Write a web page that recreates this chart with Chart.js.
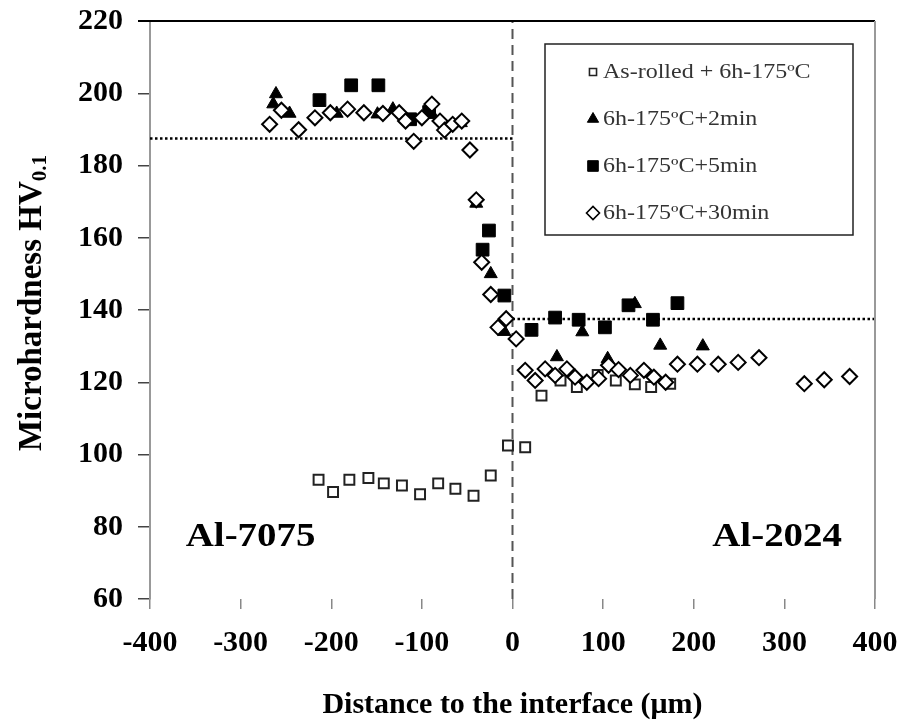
<!DOCTYPE html>
<html>
<head>
<meta charset="utf-8">
<script src="https://cdn.jsdelivr.net/npm/chart.js@4.4.0/dist/chart.umd.min.js"></script>
<style>
  body { margin: 0; background: #fff; }
  canvas { display: block; }
</style>
</head>
<body>
<canvas id="hardness" width="904" height="727"></canvas>
<script>
//======== DATA ========//

let seriesNames = ['As-rolled + 6h-175ºC', '6h-175ºC+2min', '6h-175ºC+5min', '6h-175ºC+30min'];

// As-rolled + 6h-175ºC  (open squares)
let asRolledX = [-214, -198, -180, -159, -142, -122, -102, -82, -63, -43, -24, -5, 14, 32, 53, 71, 94, 114, 135, 153, 174];
let asRolledY = [93, 89.6, 93, 93.5, 92, 91.4, 89, 92, 90.5, 88.6, 94.2, 102.5, 102, 116.3, 120.5, 118.7, 122, 120.5, 119.4, 118.7, 119.6];

// 6h-175ºC+2min  (filled triangles)
let min2X = [-264, -261, -246, -194, -149, -132, -89, -57, -40, -24, -9, 49, 77, 105, 135, 163, 210];
let min2Y = [197, 199.8, 194.4, 194.4, 194.2, 195.6, 194.2, 191.8, 169.5, 150, 134, 127, 133.9, 126.5, 141.7, 130.2, 130];

// 6h-175ºC+5min  (filled squares)
let min5X = [-213, -178, -148, -113, -92, -33, -26, -9, 21, 47, 73, 102, 128, 155, 182];
let min5Y = [198.1, 202.2, 202.2, 192.8, 194.8, 156.7, 162, 144, 134.5, 137.9, 137.3, 135.2, 141.3, 137.3, 141.9];

// 6h-175ºC+30min  (open diamonds)
let min30X = [-268, -255, -236, -218, -201, -182, -164, -143, -125, -118, -109, -100, -89, -80, -75, -66, -56, -47, -40,
              -34, -24, -16, -7, 4,
              14, 25, 36, 47, 60, 69, 82, 95, 106, 117, 130, 145, 156, 169, 182, 204, 227, 249, 272, 322, 344, 372];
let min30Y = [191.4, 195.3, 189.9, 193.2, 194.6, 195.6, 194.6, 194.4, 194.6, 192.3, 186.7, 193.2, 197, 192.3, 189.8, 191.4, 192.3, 184.3, 170.5,
              153.2, 144.3, 135.2, 137.6, 132,
              123.3, 120.5, 123.7, 121.9, 123.7, 121.4, 120, 121, 124.7, 123.5, 121.9, 123.3, 121.4, 120, 125, 125, 125, 125.5, 126.8, 119.6, 120.7, 121.6];

// dotted plateau levels and the interface
let plateau7075 = 187.5;
let plateau2024 = 137.5;
let interfaceX = 0;

let xMin = -400, xMax = 400, xStep = 100;
let yMin = 60, yMax = 220, yStep = 20;

let materials = ['Al-7075', 'Al-2024'];
let materialX = [-289, 292];
let materialY = [77, 77];

//======== CHART ========//

function pts(xs, ys) {
    return xs.map(function (x, i) { return { x: x, y: ys[i] }; });
}

let serif = "'Liberation Serif', 'Times New Roman', serif";

let styles = [
    { pointStyle: 'rect',     radius: 7,   bg: '#fff', border: '#222', bw: 2 },
    { pointStyle: 'triangle', radius: 7.5, bg: '#000', border: '#000', bw: 1 },
    { pointStyle: 'rect',     radius: 9,   bg: '#000', border: '#000', bw: 1 },
    { pointStyle: 'rectRot',  radius: 7.5, bg: '#fff', border: '#000', bw: 2 }
];
let order = [3, 2, 1, 0]; // diamonds drawn on top

let dataX = [asRolledX, min2X, min5X, min30X];
let dataY = [asRolledY, min2Y, min5Y, min30Y];

let datasets = seriesNames.map(function (name, i) {
    return {
        label: name,
        data: pts(dataX[i], dataY[i]),
        pointStyle: styles[i].pointStyle,
        pointRadius: styles[i].radius,
        pointHoverRadius: styles[i].radius,
        backgroundColor: styles[i].bg,
        borderColor: styles[i].border,
        borderWidth: styles[i].bw,
        showLine: false,
        order: order[i] + 10
    };
});

// reference lines
datasets.push({
    label: 'plateau7075',
    data: [{ x: xMin, y: plateau7075 }, { x: interfaceX, y: plateau7075 }],
    showLine: true, pointRadius: 0, borderColor: '#000', borderWidth: 2.5, borderDash: [2.5, 2.5], order: 30
});
datasets.push({
    label: 'plateau2024',
    data: [{ x: interfaceX, y: plateau2024 }, { x: xMax, y: plateau2024 }],
    showLine: true, pointRadius: 0, borderColor: '#000', borderWidth: 2.5, borderDash: [2.5, 2.5], order: 30
});
datasets.push({
    label: 'interface',
    data: [{ x: interfaceX, y: yMin }, { x: interfaceX, y: yMax }],
    showLine: true, pointRadius: 0, borderColor: '#555', borderWidth: 2, borderDash: [10, 6], order: 31
});

let decor = {
    id: 'decor',
    afterDraw: function (chart) {
        let ctx = chart.ctx;
        let a = chart.chartArea;
        let xs = chart.scales.x, ys = chart.scales.y;
        ctx.save();

        // top frame line (black) and right frame line (gray)
        ctx.strokeStyle = '#000';
        ctx.lineWidth = 2;
        ctx.beginPath();
        ctx.moveTo(a.left - 12, a.top);
        ctx.lineTo(a.right, a.top);
        ctx.stroke();
        ctx.strokeStyle = '#999';
        ctx.beginPath();
        ctx.moveTo(a.right, a.top);
        ctx.lineTo(a.right, a.bottom);
        ctx.stroke();

        // material labels
        ctx.fillStyle = '#000';
        ctx.font = 'bold 33px ' + serif;
        ctx.textAlign = 'center';
        ctx.textBaseline = 'middle';
        materials.forEach(function (m, i) {
            ctx.save();
            ctx.translate(xs.getPixelForValue(materialX[i]), ys.getPixelForValue(materialY[i]));
            ctx.scale(1.18, 1);
            ctx.fillText(m, 0, 0);
            ctx.restore();
        });

        // x title
        ctx.save();
        ctx.translate((a.left + a.right) / 2, 705);
        ctx.font = 'bold 30px ' + serif;
        ctx.fillText('Distance to the interface (\u03bcm)', 0, 0);
        ctx.restore();

        // y title with subscript
        ctx.save();
        ctx.translate(32, 303);
        ctx.rotate(-Math.PI / 2);
        ctx.font = 'bold 33px ' + serif;
        let main = 'Microhardness HV';
        let w1 = ctx.measureText(main).width;
        ctx.font = 'bold 21px ' + serif;
        let w2 = ctx.measureText('0.1').width;
        ctx.textAlign = 'left';
        ctx.font = 'bold 33px ' + serif;
        ctx.fillText(main, -(w1 + w2) / 2, 0);
        ctx.font = 'bold 21px ' + serif;
        ctx.fillText('0.1', -(w1 + w2) / 2 + w1, 9);
        ctx.restore();

        // legend box
        let lx = 545, ly = 44, lw = 308, lh = 191;
        ctx.fillStyle = '#fff';
        ctx.fillRect(lx, ly, lw, lh);
        ctx.strokeStyle = '#222';
        ctx.lineWidth = 1.5;
        ctx.strokeRect(lx, ly, lw, lh);
        let legendRadius = [5, 6.5, 7.5, 6.5];
        seriesNames.forEach(function (name, i) {
            let cy = ly + 28 + i * 47;
            ctx.fillStyle = styles[i].bg;
            ctx.strokeStyle = styles[i].border;
            ctx.lineWidth = styles[i].bw > 1 ? 1.6 : 1;
            Chart.helpers.drawPoint(ctx, {
                pointStyle: styles[i].pointStyle,
                radius: legendRadius[i],
                rotation: 0,
                borderWidth: ctx.lineWidth
            }, 593, cy);
            ctx.save();
            ctx.fillStyle = '#333';
            ctx.font = '20px ' + serif;
            ctx.textAlign = 'left';
            ctx.textBaseline = 'middle';
            ctx.translate(603, cy + 1);
            ctx.scale(1.2, 1);
            ctx.fillText(name, 0, 0);
            ctx.restore();
        });

        ctx.restore();
    }
};

let chart = new Chart(document.getElementById('hardness').getContext('2d'), {
    type: 'scatter',
    data: { datasets: datasets },
    options: {
        responsive: false,
        animation: false,
        devicePixelRatio: 1,
        layout: { padding: { left: 0, right: 29, top: 21, bottom: 0 } },
        plugins: {
            legend: { display: false },
            tooltip: { enabled: false }
        },
        scales: {
            x: {
                type: 'linear',
                min: xMin,
                max: xMax,
                afterFit: function (s) { s.height = 128; s.paddingLeft = 0; s.paddingRight = 0; },
                ticks: {
                    stepSize: xStep,
                    color: '#000',
                    padding: 16,
                    font: { family: serif, size: 30, weight: 'bold' }
                },
                grid: { drawOnChartArea: false, drawTicks: true, tickLength: 10, color: '#888', lineWidth: 1.5 },
                border: { display: false }
            },
            y: {
                min: yMin,
                max: yMax,
                afterFit: function (s) { s.width = 150; s.paddingTop = 0; s.paddingBottom = 0; },
                ticks: {
                    stepSize: yStep,
                    color: '#000',
                    padding: 15,
                    font: { family: serif, size: 30, weight: 'bold' }
                },
                grid: { drawOnChartArea: false, drawTicks: true, tickLength: 12, color: '#444', lineWidth: 1.5 },
                border: { display: true, color: '#999', width: 2 }
            }
        }
    },
    plugins: [decor]
});
</script>
</body>
</html>
